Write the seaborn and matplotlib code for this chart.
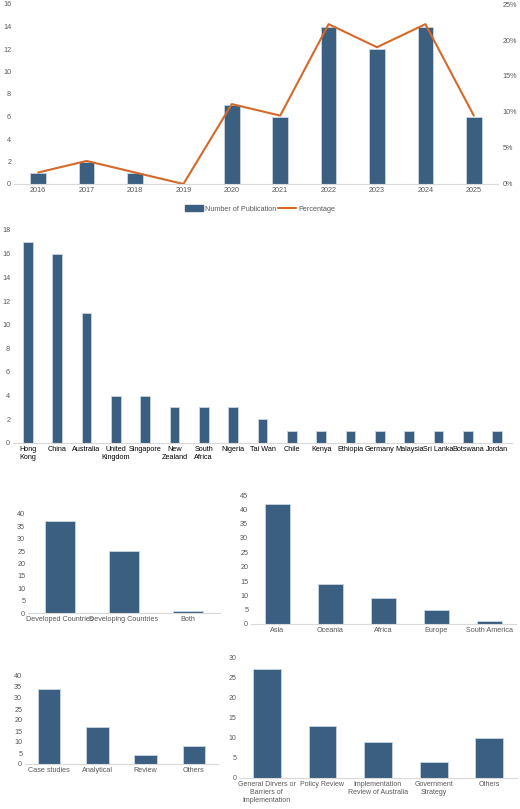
import pandas as pd
import seaborn as sns
import matplotlib.pyplot as plt
from matplotlib.ticker import PercentFormatter
from matplotlib.patches import Patch
from matplotlib.lines import Line2D

years = ['2016', '2017', '2018', '2019', '2020', '2021', '2022', '2023', '2024', '2025']
pubs = [1, 2, 1, 0, 7, 6, 14, 12, 14, 6]
pct = [1.6, 3.2, 1.6, 0.0, 11.1, 9.5, 22.2, 19.0, 22.2, 9.5]

countries = ['Hong\nKong', 'China', 'Australia', 'United\nKingdom', 'Singapore', 'New\nZealand',
             'South\nAfrica', 'Nigeria', 'Tai Wan', 'Chile', 'Kenya', 'Ethiopia', 'Germany',
             'Malaysia', 'Sri Lanka', 'Botswana', 'Jordan']
country_n = [17, 16, 11, 4, 4, 3, 3, 3, 2, 1, 1, 1, 1, 1, 1, 1, 1]

dev_cat = ['Developed Countries', 'Developing Countries', 'Both']
dev_n = [37, 25, 1]

region_cat = ['Asia', 'Oceania', 'Africa', 'Europe', 'South America']
region_n = [42, 14, 9, 5, 1]

method_cat = ['Case studies', 'Analytical', 'Review', 'Others']
method_n = [34, 17, 4, 8]

topic_cat = ['General Dirvers or\nBarriers of\nImplementation', 'Policy Review',
             'Implementation\nReview of Australia', 'Government\nStrategy', 'Others']
topic_n = [27, 13, 9, 4, 10]

sns.set_style('white')
plt.rcParams['font.family'] = ['Liberation Sans', 'DejaVu Sans']
BAR = '#3a5f80'
GREY = '#595959'
W, H = 520, 809
FS = 5.2

fig = plt.figure(figsize=(5.2, 8.09), dpi=100)


def make_ax(x0, x1, ytop, ybot):
    return fig.add_axes([x0 / W, 1 - ybot / H, (x1 - x0) / W, (ybot - ytop) / H])


def bars(ax, cats, vals, width, ymax, step, fs=FS):
    df = pd.DataFrame({'c': cats, 'v': vals})
    sns.barplot(data=df, x='c', y='v', color=BAR, width=width, ax=ax,
                edgecolor='#c9d6e3', linewidth=0.6, saturation=1)
    ax.set_ylim(0, ymax)
    ax.set_yticks(range(0, ymax + 1, step))
    ax.set_xlabel('')
    ax.set_ylabel('')
    for s in ['top', 'right', 'left']:
        ax.spines[s].set_visible(False)
    ax.spines['bottom'].set_color('#d9d9d9')
    ax.tick_params(axis='both', colors=GREY, labelsize=fs, length=0, pad=2)
    ax.set_xlim(-0.5, len(cats) - 0.5)


# panel 1
ax1 = make_ax(14, 498, 4, 184)
bars(ax1, years, pubs, 0.32, 16, 2)
tw = ax1.twinx()
tw.plot(range(len(years)), pct, color='#d4692a', lw=1.5)
tw.set_ylim(0, 25)
tw.set_yticks(range(0, 26, 5))
tw.yaxis.set_major_formatter(PercentFormatter(decimals=0))
tw.tick_params(colors=GREY, labelsize=FS, length=0)
for s in ['top', 'right', 'left', 'bottom']:
    tw.spines[s].set_visible(False)
fig.legend([Patch(color=BAR), Line2D([], [], color='#d4692a', lw=1.5)],
           ['Number of Publication', 'Percentage'], loc='center',
           bbox_to_anchor=(0.5, 1 - 209 / H), ncol=2, frameon=False, fontsize=FS,
           labelcolor=GREY, handlelength=2.5, columnspacing=0.3, handletextpad=0.3)

# panel 2
ax2 = make_ax(13, 512, 230, 443)
bars(ax2, countries, country_n, 0.33, 18, 2)
for t in ax2.get_xticklabels():
    t.set_color('black')

# panel 3-6
ax3 = make_ax(28, 220, 514, 613)
bars(ax3, dev_cat, dev_n, 0.48, 40, 5)
ax4 = make_ax(251, 516, 495, 624)
bars(ax4, region_cat, region_n, 0.47, 45, 5)
ax5 = make_ax(25, 218, 676, 764)
bars(ax5, method_cat, method_n, 0.47, 40, 5)
ax6 = make_ax(239, 517, 657, 778)
bars(ax6, topic_cat, topic_n, 0.5, 30, 5, fs=5)

fig.savefig('out.png', dpi=100)
